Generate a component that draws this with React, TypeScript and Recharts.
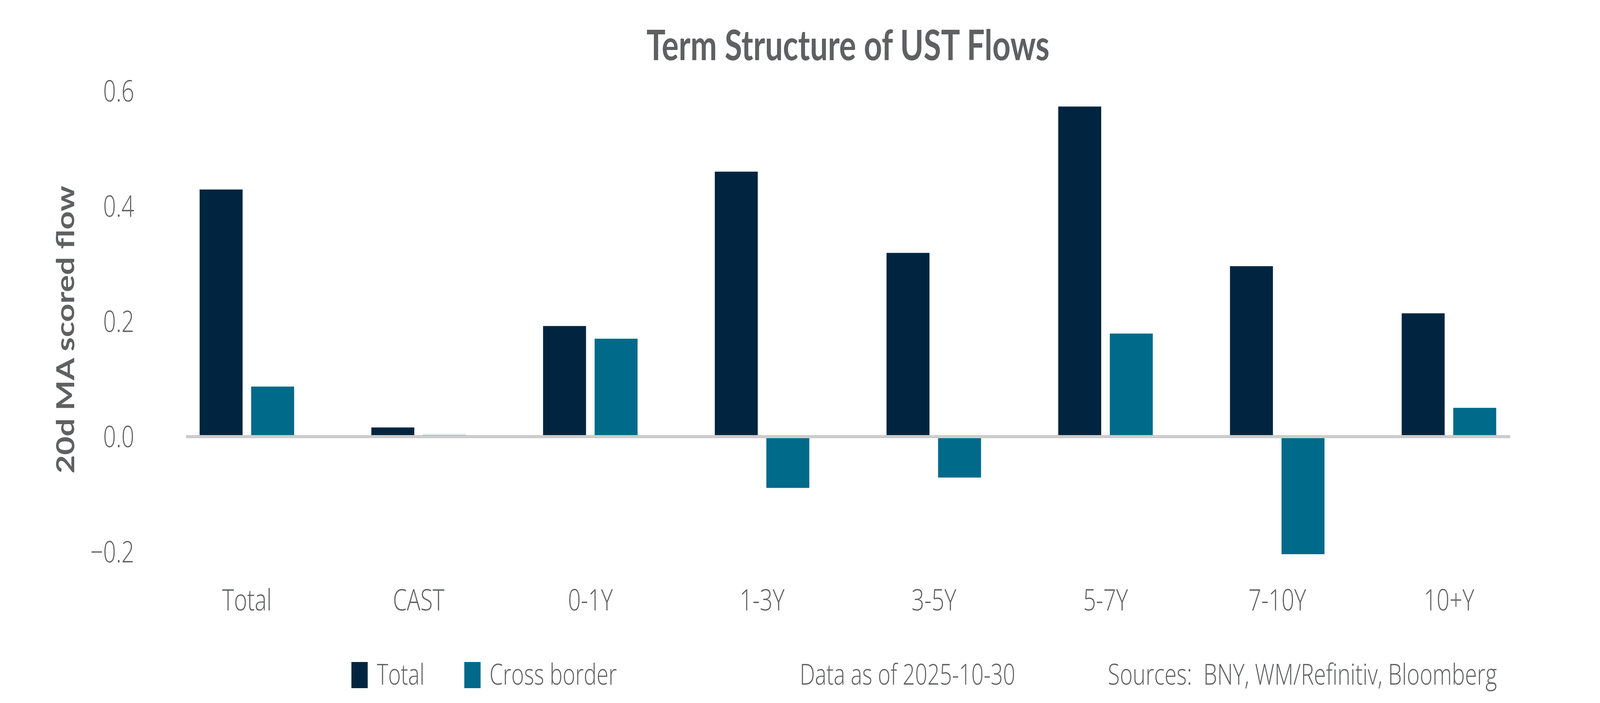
import React from 'react';
import { BarChart, Bar, XAxis, YAxis, ReferenceLine, Legend } from 'recharts';

const categories = ['Total', 'CAST', '0-1Y', '1-3Y', '3-5Y', '5-7Y', '7-10Y', '10+Y'];
const totalValues = [0.429, 0.016, 0.192, 0.46, 0.319, 0.573, 0.296, 0.214];
const crossBorderValues = [0.087, 0.003, 0.17, -0.089, -0.071, 0.179, -0.204, 0.05];
const yTicks = [-0.2, 0, 0.2, 0.4, 0.6];
const seriesNames = ['Total', 'Cross border'];
const title = 'Term Structure of UST Flows';
const yLabel = '20d MA scored flow';
const dataNote = 'Data as of 2025-10-30';
const sourcesNote = 'Sources:\u00a0 BNY, WM/Refinitiv, Bloomberg';

const rows = categories.map((c, i) => ({
  category: c,
  total: totalValues[i],
  cross: crossBorderValues[i],
}));

const DESIGN_W = 5400;
const DESIGN_H = 1800;
const VIEW_W = 4096; // the browser viewport is capped at 4096px wide
const SX = VIEW_W / DESIGN_W;

const DARK = '#012540';
const TEAL = '#006a8a';
const GRAY = '#5f6062';
const FONT = '"Open Sans", Lato, sans-serif';
const TITLE_FONT = 'Lato, "Open Sans", sans-serif';

const LEGEND_TOP = 1660;
const LEGEND_H = 130;

const fmtY = (v: number) => (v < 0 ? '\u2212' + Math.abs(v).toFixed(1) : v.toFixed(1));

const LegendContent = (props: any) => {
  const payload = props.payload || [];
  const sq = [1186, 1567];
  const tx = [1272, 1652];
  return (
    <svg width={DESIGN_W} height={LEGEND_H} style={{ display: 'block' }}>
      {payload.map((p: any, k: number) => {
        const i = Math.max(0, seriesNames.indexOf(p.value));
        return (
          <g key={k}>
            <rect x={sq[i]} y={35} width={55} height={67} fill={p.color} />
            <text x={tx[i]} y={93} fill={GRAY} fontSize={73} fontWeight={300} fontFamily={FONT}>
              {p.value}
            </text>
          </g>
        );
      })}
      <text x={2699} y={93} fill={GRAY} fontSize={73} fontWeight={300} fontFamily={FONT}>
        {dataNote}
      </text>
      <text x={3739} y={93} fill={GRAY} fontSize={74} fontWeight={300} fontFamily={FONT}>
        {sourcesNote}
      </text>
    </svg>
  );
};

export default function App() {
  return (
    <div style={{ position: 'relative', margin: -8, width: VIEW_W, height: DESIGN_H, overflow: 'hidden', background: '#fff' }}>
      <div
        style={{
          position: 'absolute',
          left: 0,
          top: 0,
          width: DESIGN_W,
          height: DESIGN_H,
          transform: `scale(${SX}, 1)`,
          transformOrigin: '0 0',
          background: '#fff',
        }}
      >
        <BarChart
          width={DESIGN_W}
          height={DESIGN_H}
          data={rows}
          margin={{ top: 233, right: 303, bottom: 162.25, left: 228 }}
          barSize={145}
          barGap={29}
        >
          <XAxis
            dataKey="category"
            axisLine={false}
            tickLine={false}
            tickSize={0}
            tickMargin={81}
            height={80}
            interval={0}
            padding={{ left: -84.3, right: -83.3 }}
            tick={{ fill: GRAY, fontSize: 76, fontWeight: 300, fontFamily: FONT }}
          />
          <YAxis
            type="number"
            domain={[-0.21, 0.6]}
            ticks={yTicks}
            tickFormatter={fmtY}
            axisLine={false}
            tickLine={false}
            tickSize={0}
            tickMargin={175}
            width={400}
            tick={{ fill: GRAY, fontSize: 76, fontWeight: 300, fontFamily: FONT }}
          />
          <Bar dataKey="total" name={seriesNames[0]} fill={DARK} isAnimationActive={false} />
          <Bar dataKey="cross" name={seriesNames[1]} fill={TEAL} isAnimationActive={false} />
          <ReferenceLine y={0} stroke="#cccccc" strokeWidth={8} />
          <Legend
            verticalAlign="bottom"
            content={LegendContent}
            wrapperStyle={{ left: 0, top: LEGEND_TOP, bottom: 'auto', width: DESIGN_W, height: LEGEND_H }}
          />
        </BarChart>
        <svg
          width={DESIGN_W}
          height={DESIGN_H}
          style={{ position: 'absolute', left: 0, top: 0, pointerEvents: 'none' }}
        >
          <text x={2862} y={154} textAnchor="middle" fill={GRAY} fontSize={107} fontWeight={700} fontFamily={TITLE_FONT}>
            {title}
          </text>
          <text
            transform="translate(250,844) rotate(-90)"
            textAnchor="middle"
            fill={GRAY}
            fontSize={82}
            fontWeight={700}
            fontFamily={TITLE_FONT}
          >
            {yLabel}
          </text>
        </svg>
      </div>
    </div>
  );
}
